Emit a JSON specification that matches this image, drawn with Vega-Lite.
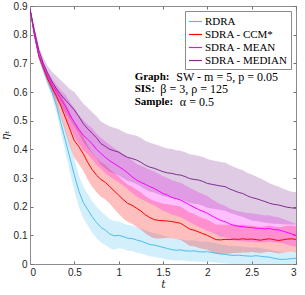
{
"$schema": "https://vega.github.io/schema/vega-lite/v6.json",
"width": 266, "height": 258,
"autosize": {"type": "none"},
"padding": {"left": 30, "top": 6, "right": 9, "bottom": 31},
"background": "white",
"config": {
  "view": {"stroke": "#8c8c8c", "strokeWidth": 1},
  "axis": {"domainColor": "#8c8c8c", "tickColor": "#707070", "labelColor": "#262626", "labelFont": "Liberation Sans", "labelFontSize": 10, "grid": false, "tickSize": -3, "labelPadding": 6, "titleFont": "DejaVu Serif", "titleFontStyle": "italic", "titleFontWeight": "normal", "titleFontSize": 11, "titleColor": "#262626", "format": "~g"},
  "legend": {"title": null, "orient": "top-right", "offset": 5, "symbolType": "stroke", "symbolSize": 169, "symbolStrokeWidth": 1.2, "labelFont": "Liberation Serif", "labelFontSize": 11, "labelColor": "#000", "labelOffset": 2, "padding": 3, "rowPadding": 0, "strokeColor": "#8c8c8c", "fillColor": "white", "cornerRadius": 0}
},
"data": {"values": [
{"t":0,"s":"RDRA","y":0.89,"lo":0.89,"hi":0.89},
{"t":0.05,"s":"RDRA","y":0.80,"lo":0.79,"hi":0.81},
{"t":0.1,"s":"RDRA","y":0.725,"lo":0.713,"hi":0.737},
{"t":0.15,"s":"RDRA","y":0.68,"lo":0.665,"hi":0.695},
{"t":0.2,"s":"RDRA","y":0.64,"lo":0.623,"hi":0.657},
{"t":0.25,"s":"RDRA","y":0.60,"lo":0.58,"hi":0.62},
{"t":0.3,"s":"RDRA","y":0.55,"lo":0.525,"hi":0.575},
{"t":0.35,"s":"RDRA","y":0.49,"lo":0.46,"hi":0.52},
{"t":0.4,"s":"RDRA","y":0.43,"lo":0.39,"hi":0.47},
{"t":0.45,"s":"RDRA","y":0.37,"lo":0.32,"hi":0.42},
{"t":0.5,"s":"RDRA","y":0.31,"lo":0.255,"hi":0.365},
{"t":0.55,"s":"RDRA","y":0.255,"lo":0.20,"hi":0.31},
{"t":0.6,"s":"RDRA","y":0.215,"lo":0.16,"hi":0.27},
{"t":0.65,"s":"RDRA","y":0.19,"lo":0.135,"hi":0.245},
{"t":0.7,"s":"RDRA","y":0.165,"lo":0.11,"hi":0.22},
{"t":0.75,"s":"RDRA","y":0.145,"lo":0.09,"hi":0.20},
{"t":0.8,"s":"RDRA","y":0.128,"lo":0.075,"hi":0.183},
{"t":0.85,"s":"RDRA","y":0.118,"lo":0.066,"hi":0.17},
{"t":0.9,"s":"RDRA","y":0.105,"lo":0.055,"hi":0.157},
{"t":0.95,"s":"RDRA","y":0.098,"lo":0.05,"hi":0.15},
{"t":1.0,"s":"RDRA","y":0.100,"lo":0.055,"hi":0.148},
{"t":1.05,"s":"RDRA","y":0.096,"lo":0.052,"hi":0.142},
{"t":1.1,"s":"RDRA","y":0.090,"lo":0.046,"hi":0.136},
{"t":1.15,"s":"RDRA","y":0.089,"lo":0.045,"hi":0.134},
{"t":1.2,"s":"RDRA","y":0.084,"lo":0.04,"hi":0.128},
{"t":1.25,"s":"RDRA","y":0.080,"lo":0.037,"hi":0.124},
{"t":1.3,"s":"RDRA","y":0.074,"lo":0.032,"hi":0.118},
{"t":1.35,"s":"RDRA","y":0.068,"lo":0.027,"hi":0.112},
{"t":1.4,"s":"RDRA","y":0.066,"lo":0.025,"hi":0.108},
{"t":1.45,"s":"RDRA","y":0.062,"lo":0.022,"hi":0.103},
{"t":1.5,"s":"RDRA","y":0.058,"lo":0.019,"hi":0.099},
{"t":1.55,"s":"RDRA","y":0.054,"lo":0.016,"hi":0.094},
{"t":1.6,"s":"RDRA","y":0.050,"lo":0.013,"hi":0.09},
{"t":1.65,"s":"RDRA","y":0.048,"lo":0.012,"hi":0.087},
{"t":1.7,"s":"RDRA","y":0.049,"lo":0.013,"hi":0.087},
{"t":1.75,"s":"RDRA","y":0.046,"lo":0.011,"hi":0.083},
{"t":1.8,"s":"RDRA","y":0.045,"lo":0.010,"hi":0.082},
{"t":1.85,"s":"RDRA","y":0.046,"lo":0.010,"hi":0.083},
{"t":1.9,"s":"RDRA","y":0.043,"lo":0.008,"hi":0.079},
{"t":1.95,"s":"RDRA","y":0.042,"lo":0.007,"hi":0.078},
{"t":2.0,"s":"RDRA","y":0.043,"lo":0.008,"hi":0.078},
{"t":2.05,"s":"RDRA","y":0.040,"lo":0.006,"hi":0.075},
{"t":2.1,"s":"RDRA","y":0.038,"lo":0.005,"hi":0.072},
{"t":2.15,"s":"RDRA","y":0.035,"lo":0.003,"hi":0.068},
{"t":2.2,"s":"RDRA","y":0.034,"lo":0.002,"hi":0.067},
{"t":2.25,"s":"RDRA","y":0.031,"lo":0.001,"hi":0.063},
{"t":2.3,"s":"RDRA","y":0.030,"lo":0.0,"hi":0.062},
{"t":2.35,"s":"RDRA","y":0.031,"lo":0.0,"hi":0.062},
{"t":2.4,"s":"RDRA","y":0.029,"lo":0.0,"hi":0.06},
{"t":2.45,"s":"RDRA","y":0.028,"lo":0.0,"hi":0.058},
{"t":2.5,"s":"RDRA","y":0.027,"lo":0.0,"hi":0.057},
{"t":2.55,"s":"RDRA","y":0.029,"lo":0.0,"hi":0.058},
{"t":2.6,"s":"RDRA","y":0.027,"lo":0.0,"hi":0.055},
{"t":2.65,"s":"RDRA","y":0.025,"lo":0.0,"hi":0.052},
{"t":2.7,"s":"RDRA","y":0.024,"lo":0.0,"hi":0.05},
{"t":2.75,"s":"RDRA","y":0.020,"lo":0.0,"hi":0.046},
{"t":2.8,"s":"RDRA","y":0.017,"lo":0.0,"hi":0.043},
{"t":2.85,"s":"RDRA","y":0.016,"lo":0.0,"hi":0.042},
{"t":2.9,"s":"RDRA","y":0.017,"lo":0.0,"hi":0.042},
{"t":2.95,"s":"RDRA","y":0.019,"lo":0.0,"hi":0.043},
{"t":3.0,"s":"RDRA","y":0.020,"lo":0.0,"hi":0.044},
{"t":0,"s":"SDRA - CCM*","y":0.89,"lo":0.89,"hi":0.89},
{"t":0.05,"s":"SDRA - CCM*","y":0.80,"lo":0.79,"hi":0.81},
{"t":0.1,"s":"SDRA - CCM*","y":0.725,"lo":0.713,"hi":0.737},
{"t":0.15,"s":"SDRA - CCM*","y":0.685,"lo":0.67,"hi":0.70},
{"t":0.2,"s":"SDRA - CCM*","y":0.645,"lo":0.627,"hi":0.663},
{"t":0.25,"s":"SDRA - CCM*","y":0.615,"lo":0.593,"hi":0.637},
{"t":0.3,"s":"SDRA - CCM*","y":0.585,"lo":0.555,"hi":0.615},
{"t":0.35,"s":"SDRA - CCM*","y":0.55,"lo":0.51,"hi":0.59},
{"t":0.4,"s":"SDRA - CCM*","y":0.51,"lo":0.46,"hi":0.56},
{"t":0.45,"s":"SDRA - CCM*","y":0.47,"lo":0.41,"hi":0.53},
{"t":0.5,"s":"SDRA - CCM*","y":0.43,"lo":0.37,"hi":0.49},
{"t":0.55,"s":"SDRA - CCM*","y":0.41,"lo":0.35,"hi":0.47},
{"t":0.6,"s":"SDRA - CCM*","y":0.385,"lo":0.325,"hi":0.445},
{"t":0.65,"s":"SDRA - CCM*","y":0.355,"lo":0.295,"hi":0.415},
{"t":0.7,"s":"SDRA - CCM*","y":0.33,"lo":0.27,"hi":0.39},
{"t":0.75,"s":"SDRA - CCM*","y":0.31,"lo":0.25,"hi":0.37},
{"t":0.8,"s":"SDRA - CCM*","y":0.295,"lo":0.235,"hi":0.355},
{"t":0.85,"s":"SDRA - CCM*","y":0.285,"lo":0.225,"hi":0.345},
{"t":0.9,"s":"SDRA - CCM*","y":0.27,"lo":0.21,"hi":0.33},
{"t":0.95,"s":"SDRA - CCM*","y":0.255,"lo":0.192,"hi":0.318},
{"t":1.0,"s":"SDRA - CCM*","y":0.24,"lo":0.175,"hi":0.305},
{"t":1.05,"s":"SDRA - CCM*","y":0.225,"lo":0.16,"hi":0.29},
{"t":1.1,"s":"SDRA - CCM*","y":0.212,"lo":0.147,"hi":0.277},
{"t":1.15,"s":"SDRA - CCM*","y":0.205,"lo":0.14,"hi":0.27},
{"t":1.2,"s":"SDRA - CCM*","y":0.195,"lo":0.13,"hi":0.26},
{"t":1.25,"s":"SDRA - CCM*","y":0.185,"lo":0.12,"hi":0.25},
{"t":1.3,"s":"SDRA - CCM*","y":0.172,"lo":0.107,"hi":0.237},
{"t":1.35,"s":"SDRA - CCM*","y":0.162,"lo":0.097,"hi":0.227},
{"t":1.4,"s":"SDRA - CCM*","y":0.155,"lo":0.09,"hi":0.22},
{"t":1.45,"s":"SDRA - CCM*","y":0.152,"lo":0.089,"hi":0.215},
{"t":1.5,"s":"SDRA - CCM*","y":0.151,"lo":0.09,"hi":0.21},
{"t":1.55,"s":"SDRA - CCM*","y":0.150,"lo":0.092,"hi":0.208},
{"t":1.6,"s":"SDRA - CCM*","y":0.148,"lo":0.09,"hi":0.206},
{"t":1.65,"s":"SDRA - CCM*","y":0.145,"lo":0.087,"hi":0.203},
{"t":1.7,"s":"SDRA - CCM*","y":0.142,"lo":0.084,"hi":0.2},
{"t":1.75,"s":"SDRA - CCM*","y":0.132,"lo":0.074,"hi":0.19},
{"t":1.8,"s":"SDRA - CCM*","y":0.122,"lo":0.064,"hi":0.18},
{"t":1.85,"s":"SDRA - CCM*","y":0.118,"lo":0.062,"hi":0.174},
{"t":1.9,"s":"SDRA - CCM*","y":0.112,"lo":0.057,"hi":0.167},
{"t":1.95,"s":"SDRA - CCM*","y":0.106,"lo":0.052,"hi":0.16},
{"t":2.0,"s":"SDRA - CCM*","y":0.100,"lo":0.05,"hi":0.155},
{"t":2.05,"s":"SDRA - CCM*","y":0.092,"lo":0.042,"hi":0.146},
{"t":2.1,"s":"SDRA - CCM*","y":0.085,"lo":0.035,"hi":0.138},
{"t":2.15,"s":"SDRA - CCM*","y":0.084,"lo":0.034,"hi":0.137},
{"t":2.2,"s":"SDRA - CCM*","y":0.086,"lo":0.036,"hi":0.138},
{"t":2.25,"s":"SDRA - CCM*","y":0.085,"lo":0.036,"hi":0.136},
{"t":2.3,"s":"SDRA - CCM*","y":0.087,"lo":0.038,"hi":0.138},
{"t":2.35,"s":"SDRA - CCM*","y":0.086,"lo":0.038,"hi":0.136},
{"t":2.4,"s":"SDRA - CCM*","y":0.088,"lo":0.04,"hi":0.138},
{"t":2.45,"s":"SDRA - CCM*","y":0.086,"lo":0.04,"hi":0.134},
{"t":2.5,"s":"SDRA - CCM*","y":0.087,"lo":0.042,"hi":0.134},
{"t":2.55,"s":"SDRA - CCM*","y":0.085,"lo":0.04,"hi":0.131},
{"t":2.6,"s":"SDRA - CCM*","y":0.083,"lo":0.038,"hi":0.129},
{"t":2.65,"s":"SDRA - CCM*","y":0.086,"lo":0.041,"hi":0.132},
{"t":2.7,"s":"SDRA - CCM*","y":0.088,"lo":0.043,"hi":0.134},
{"t":2.75,"s":"SDRA - CCM*","y":0.085,"lo":0.04,"hi":0.131},
{"t":2.8,"s":"SDRA - CCM*","y":0.082,"lo":0.037,"hi":0.128},
{"t":2.85,"s":"SDRA - CCM*","y":0.084,"lo":0.039,"hi":0.13},
{"t":2.9,"s":"SDRA - CCM*","y":0.087,"lo":0.042,"hi":0.133},
{"t":2.95,"s":"SDRA - CCM*","y":0.088,"lo":0.043,"hi":0.134},
{"t":3.0,"s":"SDRA - CCM*","y":0.086,"lo":0.041,"hi":0.132},
{"t":0,"s":"SDRA - MEAN","y":0.89,"lo":0.89,"hi":0.89},
{"t":0.05,"s":"SDRA - MEAN","y":0.80,"lo":0.79,"hi":0.81},
{"t":0.1,"s":"SDRA - MEAN","y":0.73,"lo":0.718,"hi":0.742},
{"t":0.15,"s":"SDRA - MEAN","y":0.69,"lo":0.675,"hi":0.705},
{"t":0.2,"s":"SDRA - MEAN","y":0.655,"lo":0.637,"hi":0.673},
{"t":0.25,"s":"SDRA - MEAN","y":0.625,"lo":0.603,"hi":0.647},
{"t":0.3,"s":"SDRA - MEAN","y":0.60,"lo":0.575,"hi":0.625},
{"t":0.35,"s":"SDRA - MEAN","y":0.575,"lo":0.545,"hi":0.605},
{"t":0.4,"s":"SDRA - MEAN","y":0.55,"lo":0.51,"hi":0.59},
{"t":0.45,"s":"SDRA - MEAN","y":0.52,"lo":0.475,"hi":0.565},
{"t":0.5,"s":"SDRA - MEAN","y":0.495,"lo":0.445,"hi":0.545},
{"t":0.55,"s":"SDRA - MEAN","y":0.47,"lo":0.42,"hi":0.52},
{"t":0.6,"s":"SDRA - MEAN","y":0.45,"lo":0.398,"hi":0.502},
{"t":0.65,"s":"SDRA - MEAN","y":0.435,"lo":0.383,"hi":0.487},
{"t":0.7,"s":"SDRA - MEAN","y":0.42,"lo":0.366,"hi":0.474},
{"t":0.75,"s":"SDRA - MEAN","y":0.40,"lo":0.346,"hi":0.454},
{"t":0.8,"s":"SDRA - MEAN","y":0.386,"lo":0.332,"hi":0.44},
{"t":0.85,"s":"SDRA - MEAN","y":0.372,"lo":0.317,"hi":0.427},
{"t":0.9,"s":"SDRA - MEAN","y":0.36,"lo":0.305,"hi":0.415},
{"t":0.95,"s":"SDRA - MEAN","y":0.35,"lo":0.295,"hi":0.405},
{"t":1.0,"s":"SDRA - MEAN","y":0.34,"lo":0.285,"hi":0.395},
{"t":1.05,"s":"SDRA - MEAN","y":0.33,"lo":0.275,"hi":0.385},
{"t":1.1,"s":"SDRA - MEAN","y":0.318,"lo":0.262,"hi":0.374},
{"t":1.15,"s":"SDRA - MEAN","y":0.305,"lo":0.248,"hi":0.362},
{"t":1.2,"s":"SDRA - MEAN","y":0.293,"lo":0.236,"hi":0.35},
{"t":1.25,"s":"SDRA - MEAN","y":0.285,"lo":0.227,"hi":0.343},
{"t":1.3,"s":"SDRA - MEAN","y":0.278,"lo":0.22,"hi":0.336},
{"t":1.35,"s":"SDRA - MEAN","y":0.27,"lo":0.211,"hi":0.329},
{"t":1.4,"s":"SDRA - MEAN","y":0.264,"lo":0.205,"hi":0.323},
{"t":1.45,"s":"SDRA - MEAN","y":0.255,"lo":0.195,"hi":0.315},
{"t":1.5,"s":"SDRA - MEAN","y":0.246,"lo":0.186,"hi":0.306},
{"t":1.55,"s":"SDRA - MEAN","y":0.24,"lo":0.18,"hi":0.30},
{"t":1.6,"s":"SDRA - MEAN","y":0.232,"lo":0.172,"hi":0.292},
{"t":1.65,"s":"SDRA - MEAN","y":0.228,"lo":0.168,"hi":0.288},
{"t":1.7,"s":"SDRA - MEAN","y":0.223,"lo":0.163,"hi":0.283},
{"t":1.75,"s":"SDRA - MEAN","y":0.215,"lo":0.155,"hi":0.275},
{"t":1.8,"s":"SDRA - MEAN","y":0.206,"lo":0.146,"hi":0.266},
{"t":1.85,"s":"SDRA - MEAN","y":0.198,"lo":0.138,"hi":0.258},
{"t":1.9,"s":"SDRA - MEAN","y":0.19,"lo":0.13,"hi":0.25},
{"t":1.95,"s":"SDRA - MEAN","y":0.184,"lo":0.124,"hi":0.244},
{"t":2.0,"s":"SDRA - MEAN","y":0.177,"lo":0.117,"hi":0.237},
{"t":2.05,"s":"SDRA - MEAN","y":0.168,"lo":0.11,"hi":0.226},
{"t":2.1,"s":"SDRA - MEAN","y":0.16,"lo":0.103,"hi":0.217},
{"t":2.15,"s":"SDRA - MEAN","y":0.152,"lo":0.096,"hi":0.208},
{"t":2.2,"s":"SDRA - MEAN","y":0.148,"lo":0.093,"hi":0.203},
{"t":2.25,"s":"SDRA - MEAN","y":0.14,"lo":0.086,"hi":0.194},
{"t":2.3,"s":"SDRA - MEAN","y":0.135,"lo":0.082,"hi":0.188},
{"t":2.35,"s":"SDRA - MEAN","y":0.132,"lo":0.08,"hi":0.184},
{"t":2.4,"s":"SDRA - MEAN","y":0.13,"lo":0.079,"hi":0.181},
{"t":2.45,"s":"SDRA - MEAN","y":0.128,"lo":0.078,"hi":0.178},
{"t":2.5,"s":"SDRA - MEAN","y":0.127,"lo":0.077,"hi":0.177},
{"t":2.55,"s":"SDRA - MEAN","y":0.125,"lo":0.076,"hi":0.174},
{"t":2.6,"s":"SDRA - MEAN","y":0.124,"lo":0.076,"hi":0.172},
{"t":2.65,"s":"SDRA - MEAN","y":0.122,"lo":0.075,"hi":0.169},
{"t":2.7,"s":"SDRA - MEAN","y":0.124,"lo":0.078,"hi":0.17},
{"t":2.75,"s":"SDRA - MEAN","y":0.12,"lo":0.075,"hi":0.165},
{"t":2.8,"s":"SDRA - MEAN","y":0.119,"lo":0.075,"hi":0.163},
{"t":2.85,"s":"SDRA - MEAN","y":0.115,"lo":0.072,"hi":0.158},
{"t":2.9,"s":"SDRA - MEAN","y":0.11,"lo":0.068,"hi":0.152},
{"t":2.95,"s":"SDRA - MEAN","y":0.105,"lo":0.064,"hi":0.146},
{"t":3.0,"s":"SDRA - MEAN","y":0.10,"lo":0.06,"hi":0.14},
{"t":0,"s":"SDRA - MEDIAN","y":0.89,"lo":0.89,"hi":0.89},
{"t":0.05,"s":"SDRA - MEDIAN","y":0.815,"lo":0.805,"hi":0.825},
{"t":0.1,"s":"SDRA - MEDIAN","y":0.745,"lo":0.73,"hi":0.76},
{"t":0.15,"s":"SDRA - MEDIAN","y":0.70,"lo":0.68,"hi":0.72},
{"t":0.2,"s":"SDRA - MEDIAN","y":0.665,"lo":0.64,"hi":0.69},
{"t":0.25,"s":"SDRA - MEDIAN","y":0.635,"lo":0.605,"hi":0.67},
{"t":0.3,"s":"SDRA - MEDIAN","y":0.61,"lo":0.575,"hi":0.655},
{"t":0.35,"s":"SDRA - MEDIAN","y":0.59,"lo":0.55,"hi":0.64},
{"t":0.4,"s":"SDRA - MEDIAN","y":0.572,"lo":0.527,"hi":0.625},
{"t":0.45,"s":"SDRA - MEDIAN","y":0.555,"lo":0.505,"hi":0.61},
{"t":0.5,"s":"SDRA - MEDIAN","y":0.537,"lo":0.48,"hi":0.60},
{"t":0.55,"s":"SDRA - MEDIAN","y":0.515,"lo":0.455,"hi":0.58},
{"t":0.6,"s":"SDRA - MEDIAN","y":0.49,"lo":0.425,"hi":0.56},
{"t":0.65,"s":"SDRA - MEDIAN","y":0.472,"lo":0.405,"hi":0.545},
{"t":0.7,"s":"SDRA - MEDIAN","y":0.456,"lo":0.386,"hi":0.53},
{"t":0.75,"s":"SDRA - MEDIAN","y":0.44,"lo":0.368,"hi":0.515},
{"t":0.8,"s":"SDRA - MEDIAN","y":0.42,"lo":0.346,"hi":0.497},
{"t":0.85,"s":"SDRA - MEDIAN","y":0.41,"lo":0.334,"hi":0.488},
{"t":0.9,"s":"SDRA - MEDIAN","y":0.40,"lo":0.322,"hi":0.48},
{"t":0.95,"s":"SDRA - MEDIAN","y":0.395,"lo":0.316,"hi":0.475},
{"t":1.0,"s":"SDRA - MEDIAN","y":0.39,"lo":0.31,"hi":0.47},
{"t":1.05,"s":"SDRA - MEDIAN","y":0.38,"lo":0.299,"hi":0.461},
{"t":1.1,"s":"SDRA - MEDIAN","y":0.372,"lo":0.29,"hi":0.454},
{"t":1.15,"s":"SDRA - MEDIAN","y":0.368,"lo":0.285,"hi":0.451},
{"t":1.2,"s":"SDRA - MEDIAN","y":0.363,"lo":0.279,"hi":0.447},
{"t":1.25,"s":"SDRA - MEDIAN","y":0.355,"lo":0.27,"hi":0.44},
{"t":1.3,"s":"SDRA - MEDIAN","y":0.345,"lo":0.26,"hi":0.43},
{"t":1.35,"s":"SDRA - MEDIAN","y":0.338,"lo":0.253,"hi":0.423},
{"t":1.4,"s":"SDRA - MEDIAN","y":0.334,"lo":0.249,"hi":0.419},
{"t":1.45,"s":"SDRA - MEDIAN","y":0.328,"lo":0.243,"hi":0.413},
{"t":1.5,"s":"SDRA - MEDIAN","y":0.322,"lo":0.237,"hi":0.407},
{"t":1.55,"s":"SDRA - MEDIAN","y":0.318,"lo":0.233,"hi":0.403},
{"t":1.6,"s":"SDRA - MEDIAN","y":0.316,"lo":0.231,"hi":0.401},
{"t":1.65,"s":"SDRA - MEDIAN","y":0.312,"lo":0.227,"hi":0.397},
{"t":1.7,"s":"SDRA - MEDIAN","y":0.31,"lo":0.225,"hi":0.395},
{"t":1.75,"s":"SDRA - MEDIAN","y":0.305,"lo":0.22,"hi":0.39},
{"t":1.8,"s":"SDRA - MEDIAN","y":0.298,"lo":0.213,"hi":0.383},
{"t":1.85,"s":"SDRA - MEDIAN","y":0.295,"lo":0.21,"hi":0.38},
{"t":1.9,"s":"SDRA - MEDIAN","y":0.293,"lo":0.208,"hi":0.378},
{"t":1.95,"s":"SDRA - MEDIAN","y":0.288,"lo":0.203,"hi":0.373},
{"t":2.0,"s":"SDRA - MEDIAN","y":0.281,"lo":0.196,"hi":0.366},
{"t":2.05,"s":"SDRA - MEDIAN","y":0.278,"lo":0.194,"hi":0.362},
{"t":2.1,"s":"SDRA - MEDIAN","y":0.275,"lo":0.191,"hi":0.359},
{"t":2.15,"s":"SDRA - MEDIAN","y":0.272,"lo":0.188,"hi":0.356},
{"t":2.2,"s":"SDRA - MEDIAN","y":0.27,"lo":0.186,"hi":0.354},
{"t":2.25,"s":"SDRA - MEDIAN","y":0.262,"lo":0.179,"hi":0.345},
{"t":2.3,"s":"SDRA - MEDIAN","y":0.256,"lo":0.174,"hi":0.338},
{"t":2.35,"s":"SDRA - MEDIAN","y":0.25,"lo":0.168,"hi":0.332},
{"t":2.4,"s":"SDRA - MEDIAN","y":0.246,"lo":0.165,"hi":0.327},
{"t":2.45,"s":"SDRA - MEDIAN","y":0.238,"lo":0.158,"hi":0.318},
{"t":2.5,"s":"SDRA - MEDIAN","y":0.232,"lo":0.152,"hi":0.312},
{"t":2.55,"s":"SDRA - MEDIAN","y":0.228,"lo":0.15,"hi":0.305},
{"t":2.6,"s":"SDRA - MEDIAN","y":0.223,"lo":0.147,"hi":0.298},
{"t":2.65,"s":"SDRA - MEDIAN","y":0.218,"lo":0.145,"hi":0.29},
{"t":2.7,"s":"SDRA - MEDIAN","y":0.212,"lo":0.142,"hi":0.282},
{"t":2.75,"s":"SDRA - MEDIAN","y":0.208,"lo":0.14,"hi":0.276},
{"t":2.8,"s":"SDRA - MEDIAN","y":0.206,"lo":0.14,"hi":0.27},
{"t":2.85,"s":"SDRA - MEDIAN","y":0.202,"lo":0.139,"hi":0.263},
{"t":2.9,"s":"SDRA - MEDIAN","y":0.198,"lo":0.138,"hi":0.257},
{"t":2.95,"s":"SDRA - MEDIAN","y":0.196,"lo":0.138,"hi":0.252},
{"t":3.0,"s":"SDRA - MEDIAN","y":0.194,"lo":0.138,"hi":0.25}
]},
"resolve": {"axis": {"x": "independent", "y": "independent"}},
"layer": [
 {"mark": {"type": "area", "fillOpacity": 0.25, "clip": true},
  "encoding": {
   "x": {"field": "t", "type": "quantitative", "scale": {"domain": [0, 3], "nice": false}, "axis": {"title": "t", "values": [0, 0.5, 1, 1.5, 2, 2.5, 3], "titlePadding": 1, "orient": "bottom"}},
   "y": {"field": "lo", "type": "quantitative", "scale": {"domain": [0, 0.9], "nice": false}, "axis": {"title": "ηₜ", "values": [0, 0.1, 0.2, 0.3, 0.4, 0.5, 0.6, 0.7, 0.8, 0.9], "titlePadding": 3, "orient": "left"}},
   "y2": {"field": "hi"},
   "color": {"field": "s", "type": "nominal", "scale": {"domain": ["RDRA", "SDRA - CCM*", "SDRA - MEAN", "SDRA - MEDIAN"], "range": ["#4DBEEE", "#FF0000", "#FF00FF", "#7E2F8E"]}}
  }},
 {"mark": {"type": "line", "strokeWidth": 1, "clip": true},
  "encoding": {
   "x": {"field": "t", "type": "quantitative", "axis": {"orient": "top", "labels": false, "title": null, "values": [0, 0.5, 1, 1.5, 2, 2.5, 3], "domain": false}},
   "y": {"field": "y", "type": "quantitative", "axis": {"orient": "right", "labels": false, "title": null, "values": [0, 0.1, 0.2, 0.3, 0.4, 0.5, 0.6, 0.7, 0.8, 0.9], "domain": false}},
   "color": {"field": "s", "type": "nominal"}
  }},
 {"data": {"values": [
   {"t": 1.18, "eta": 0.652, "label": "Graph:", "rest": "SW - m = 5, p = 0.05", "t2": 1.65},
   {"t": 1.18, "eta": 0.609, "label": "SIS:", "rest": "β = 3, ρ = 125", "t2": 1.47},
   {"t": 1.18, "eta": 0.565, "label": "Sample:", "rest": "α = 0.5", "t2": 1.69}
  ]},
  "layer": [
   {"mark": {"type": "text", "align": "left", "baseline": "middle", "font": "Liberation Serif", "fontSize": 11, "fontWeight": "bold", "color": "#000"},
    "encoding": {"x": {"field": "t", "type": "quantitative", "axis": null}, "y": {"field": "eta", "type": "quantitative", "axis": null}, "text": {"field": "label"}}},
   {"mark": {"type": "text", "align": "left", "baseline": "middle", "font": "Liberation Serif", "fontSize": 12, "color": "#000"},
    "encoding": {"x": {"field": "t2", "type": "quantitative", "axis": null}, "y": {"field": "eta", "type": "quantitative", "axis": null}, "text": {"field": "rest"}}}
  ]}
]
}
